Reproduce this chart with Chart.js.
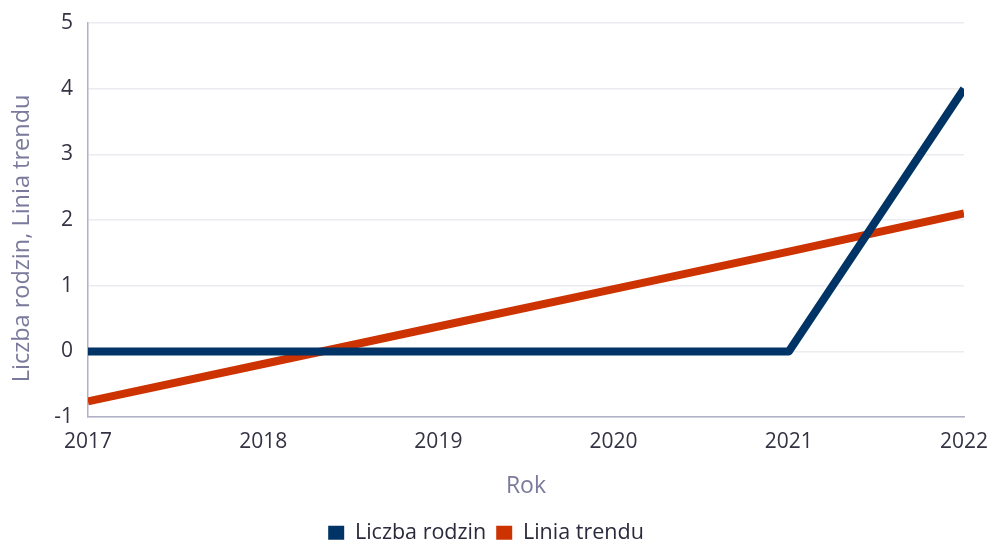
<!DOCTYPE html>
<html><head><meta charset="utf-8">
<script src="https://cdn.jsdelivr.net/npm/chart.js@4"></script>
<style>html,body{margin:0;padding:0;background:#fff}#wrap{width:988px;height:542px}</style>
</head><body><div id="wrap"><canvas id="c" width="988" height="542"></canvas></div>
<script>
const years = [2017, 2018, 2019, 2020, 2021, 2022];
const liczbaRodzin = [0, 0, 0, 0, 0, 4];
const liniaTrendu = [-0.76, -0.19, 0.38, 0.95, 1.52, 2.1];
const xTitle = 'Rok';
const yTitle = 'Liczba rodzin, Linia trendu';

const FONT = '"Open Sans", sans-serif';
const toPts = (arr) => arr.map((v, i) => ({x: years[i], y: v}));

new Chart(document.getElementById('c'), {
  type: 'line',
  data: {
    datasets: [
      {label: 'Liczba rodzin', data: toPts(liczbaRodzin), borderColor: '#003366', backgroundColor: '#003366', borderWidth: 8, pointRadius: 0, tension: 0, borderJoinStyle: 'round'},
      {label: 'Linia trendu', data: toPts(liniaTrendu), borderColor: '#cc3300', backgroundColor: '#cc3300', borderWidth: 8, pointRadius: 0, tension: 0}
    ]
  },
  options: {
    responsive: false,
    animation: false,
    layout: {padding: {top: 0, right: 24, left: 8, bottom: 0}},
    plugins: {
      legend: {position: 'bottom', maxHeight: 30, labels: {boxWidth: 16, boxHeight: 14, color: '#2a2a3c', font: {family: FONT, size: 21.5}, padding: 10,
        generateLabels: (chart) => Chart.defaults.plugins.legend.labels.generateLabels(chart).map(l => Object.assign(l, {lineWidth: 0}))}},
      tooltip: {enabled: false}
    },
    scales: {
      x: {type: 'linear', min: 2017, max: 2022,
        afterFit: (s) => { s.paddingRight = 0; },
        ticks: {stepSize: 1, color: '#333344', font: {family: FONT, size: 21}, callback: v => String(v), padding: 12, maxRotation: 0},
        grid: {display: false, drawTicks: false},
        border: {display: true, color: '#b0b0c8', width: 1.5},
        title: {display: true, text: xTitle, color: '#7a7a9c', font: {family: FONT, size: 23}, padding: {top: 6, bottom: 12}}
      },
      y: {min: -1, max: 5,
        afterFit: (s) => { s.paddingTop = 23; },
        ticks: {stepSize: 1, color: '#333344', font: {family: FONT, size: 21}, padding: 15},
        grid: {color: '#ebebf0', lineWidth: 1.5, drawTicks: false},
        border: {display: true, color: '#b0b0c8', width: 1.5},
        title: {display: true, text: yTitle + '      ', color: '#7a7a9c', font: {family: FONT, size: 23.5}, padding: {top: 0, bottom: 3}}
      }
    }
  }
});
</script></body></html>
